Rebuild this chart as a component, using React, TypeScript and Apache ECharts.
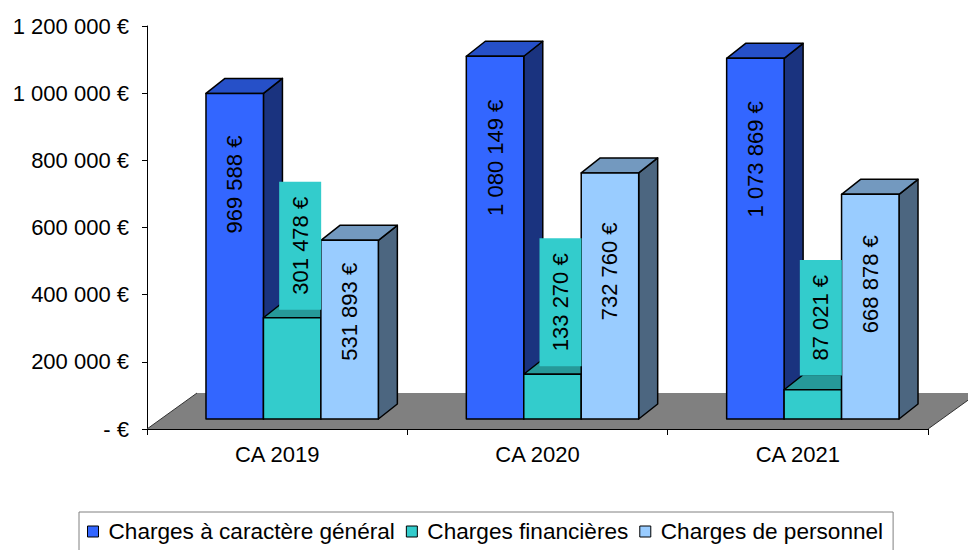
import React, { useEffect, useRef } from "react";
import * as echarts from "echarts";

const categories = ["CA 2019", "CA 2020", "CA 2021"];
const seriesNames = ["Charges à caractère général", "Charges financières", "Charges de personnel"];
const chargesGenerales = [969588, 1080149, 1073869];
const chargesFinancieres = [301478, 133270, 87021];
const chargesPersonnel = [531893, 732760, 668878];
const seriesValues = [chargesGenerales, chargesFinancieres, chargesPersonnel];

const Y_MIN = 0;
const Y_MAX = 1200000;
const Y_INTERVAL = 200000;

const FRONT = ["#3366FF", "#33CCCC", "#99CCFF"];
const TOP = ["#2650C8", "#269999", "#7399BF"];
const SIDE = ["#1A337F", "#1A6666", "#4C6680"];

const FONT = '"Liberation Sans", Arial, sans-serif';

const fmt = (v: number) =>
  v === 0 ? "- €" : String(v).replace(/\B(?=(\d{3})+(?!\d))/g, " ") + " €";

// 3D projection offsets (pixels)
const DX = 19;
const DY = -15;
const SHIFT_X = 15;
const SHIFT_Y = -10;
const FLOOR_DX = 50;
const FLOOR_DY = -36;
const BAR_RATIO = 0.2207;

function barGeom(api: any, cat: number, val: number, s: number) {
  const band = api.size([1, 0])[0];
  const w = band * BAR_RATIO;
  const base = api.coord([cat, 0]);
  const top = api.coord([cat, val]);
  const xL = base[0] + SHIFT_X - 1.5 * w + s * w;
  return { xL, xR: xL + w, yB: base[1] + SHIFT_Y, yT: top[1] + SHIFT_Y, w };
}

export default function App() {
  const ref = useRef<HTMLDivElement>(null);
  useEffect(() => {
    if (!ref.current) return;
    const chart = echarts.init(ref.current, undefined, { renderer: "svg" });

    const barSeries = seriesValues.map((vals, s) => ({
      type: "custom",
      name: seriesNames[s],
      z: 3 + s,
      itemStyle: { color: FRONT[s] },
      data: vals.map((v, i) => [i, v]),
      renderItem: (params: any, api: any) => {
        const g = barGeom(api, api.value(0), api.value(1), s);
        const { xL, xR, yB, yT } = g;
        const stroke = { stroke: "#000", lineWidth: 1.5, lineJoin: "round" };
        return {
          type: "group",
          children: [
            {
              type: "polygon",
              shape: { points: [[xR, yT], [xR + DX, yT + DY], [xR + DX, yB + DY], [xR, yB]] },
              style: { fill: SIDE[s], ...stroke },
            },
            {
              type: "polygon",
              shape: { points: [[xL, yT], [xL + DX, yT + DY], [xR + DX, yT + DY], [xR, yT]] },
              style: { fill: TOP[s], ...stroke },
            },
            {
              type: "rect",
              shape: { x: xL, y: yT, width: xR - xL, height: yB - yT },
              style: { fill: FRONT[s], ...stroke },
            },
          ],
        };
      },
    }));

    const labelData: number[][] = [];
    seriesValues.forEach((vals, s) => vals.forEach((v, i) => labelData.push([i, v, s])));

    const option: any = {
      animation: false,
      backgroundColor: "#fff",
      grid: { left: 147, right: 40, top: 26, bottom: 121, containLabel: false },
      xAxis: {
        type: "category",
        data: categories,
        boundaryGap: true,
        z: 10,
        axisLine: { show: true, lineStyle: { color: "#000", width: 1 } },
        axisTick: { show: true, alignWithLabel: false, length: 6, lineStyle: { color: "#000" } },
        axisLabel: { color: "#000", fontSize: 22, fontFamily: FONT, margin: 14 },
        splitLine: { show: false },
      },
      yAxis: {
        type: "value",
        min: Y_MIN,
        max: Y_MAX,
        interval: Y_INTERVAL,
        axisLine: { show: true, lineStyle: { color: "#000", width: 1 } },
        axisTick: { show: true, length: 5, lineStyle: { color: "#000" } },
        axisLabel: { color: "#000", fontSize: 22, fontFamily: FONT, margin: 18, formatter: (v: number) => fmt(v) },
        splitLine: { show: false },
      },
      legend: {
        left: 79,
        top: 512,
        orient: "horizontal",
        borderColor: "#808080",
        borderWidth: 1,
        padding: [8, 10, 8, 8],
        itemGap: 11,
        itemWidth: 11,
        itemHeight: 11,
        textStyle: { color: "#000", fontSize: 22.6, fontFamily: FONT, padding: [0, 0, 0, 5] },
        data: seriesNames.map((n, s) => ({
          name: n,
          icon: "rect",
          itemStyle: { color: FRONT[s], borderColor: "#000", borderWidth: 1 },
        })),
      },
      series: [
        {
          type: "custom",
          name: "floor",
          z: 1,
          silent: true,
          data: [[0, 0]],
          renderItem: (params: any, api: any) => {
            const cs = params.coordSys;
            const yF = cs.y + cs.height;
            const x0 = cs.x;
            const x1 = cs.x + cs.width;
            return {
              type: "group",
              children: [
                {
                  type: "polygon",
                  shape: {
                    points: [
                      [x0, yF],
                      [x1, yF],
                      [x1 + FLOOR_DX, yF + FLOOR_DY],
                      [x0 + FLOOR_DX, yF + FLOOR_DY],
                    ],
                  },
                  style: { fill: "#808080", stroke: "none" },
                },
                {
                  type: "line",
                  shape: { x1: x0, y1: yF, x2: x0 + FLOOR_DX, y2: yF + FLOOR_DY },
                  style: { stroke: "#333", lineWidth: 1 },
                },
                {
                  type: "line",
                  shape: { x1: x1, y1: yF, x2: x1 + FLOOR_DX, y2: yF + FLOOR_DY },
                  style: { stroke: "#333", lineWidth: 1 },
                },
              ],
            };
          },
        },
        ...barSeries,
        {
          type: "custom",
          name: "labels",
          z: 20,
          silent: true,
          data: labelData,
          renderItem: (params: any, api: any) => {
            const cat = api.value(0);
            const val = api.value(1);
            const s = api.value(2);
            const g = barGeom(api, cat, val, s);
            const h = g.yB - g.yT;
            let cx = (g.xL + g.xR) / 2;
            let cy: number;
            if (s === 0) cy = g.yB - 0.72 * h;
            else if (s === 2) cy = g.yB - 0.6 * h;
            else {
              cy = g.yT - 72;
              cx += 8;
            }
            return {
              type: "text",
              x: cx,
              y: cy,
              rotation: Math.PI / 2,
              style: {
                text: fmt(val),
                fill: "#000",
                font: `22px ${FONT}`,
                align: "center",
                verticalAlign: "middle",
                backgroundColor: s === 1 ? FRONT[1] : undefined,
                padding: s === 1 ? [10, 15] : 0,
              },
            };
          },
        },
      ],
    };
    chart.setOption(option);
    return () => chart.dispose();
  }, []);
  return <div ref={ref} style={{ position: "absolute", left: 0, top: 0, width: 968, height: 550 }} />;
}
